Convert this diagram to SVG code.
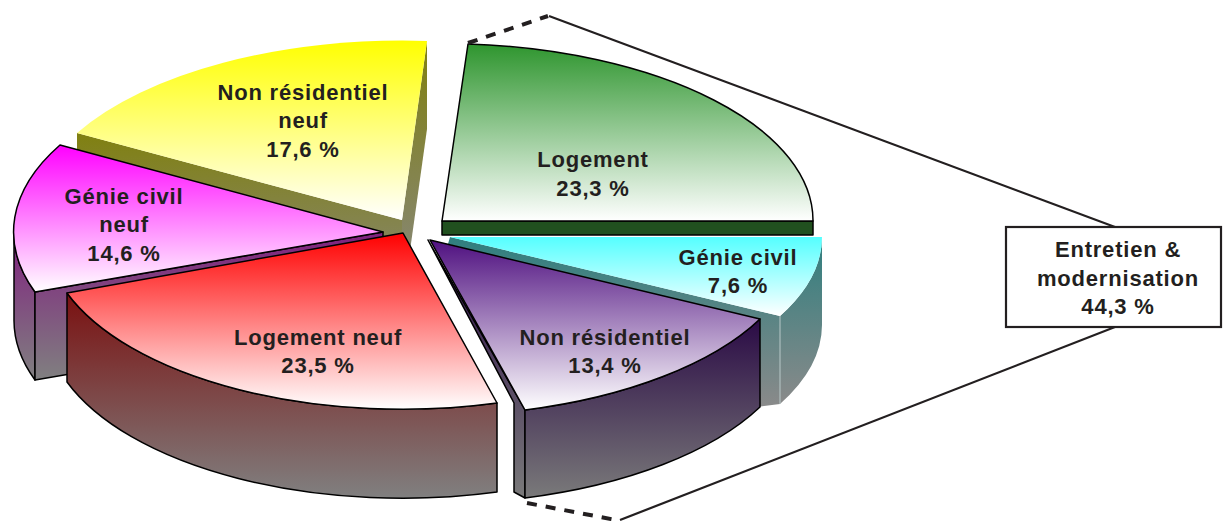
<svg xmlns="http://www.w3.org/2000/svg" width="1224" height="521" viewBox="0 0 1224 521">
<defs>
<linearGradient id="tY" x1="0" y1="0" x2="0" y2="1"><stop offset="0" stop-color="#ffff00"/><stop offset="1" stop-color="#ffffff"/></linearGradient>
<linearGradient id="tG" x1="0" y1="0" x2="0" y2="1"><stop offset="0" stop-color="#2e952e"/><stop offset="1" stop-color="#ffffff"/></linearGradient>
<linearGradient id="tM" x1="0" y1="0" x2="0" y2="1"><stop offset="0" stop-color="#ff00ff"/><stop offset="1" stop-color="#ffffff"/></linearGradient>
<linearGradient id="tC" x1="0" y1="0" x2="0" y2="1"><stop offset="0" stop-color="#55ffff"/><stop offset="1" stop-color="#ffffff"/></linearGradient>
<linearGradient id="tP" x1="0" y1="0" x2="0" y2="1"><stop offset="0" stop-color="#4f1080"/><stop offset="1" stop-color="#ffffff"/></linearGradient>
<linearGradient id="tR" x1="0" y1="0" x2="0" y2="1"><stop offset="0" stop-color="#ff0000"/><stop offset="1" stop-color="#ffffff"/></linearGradient>
<linearGradient id="sY" x1="0" y1="0" x2="0" y2="1"><stop offset="0" stop-color="#808010"/><stop offset="1" stop-color="#888888"/></linearGradient>
<linearGradient id="sM" x1="0" y1="0" x2="0" y2="1"><stop offset="0" stop-color="#80207f"/><stop offset="1" stop-color="#808080"/></linearGradient>
<linearGradient id="sC" x1="0" y1="0" x2="0" y2="1"><stop offset="0" stop-color="#2f7f7f"/><stop offset="1" stop-color="#8a8a8a"/></linearGradient>
<linearGradient id="sP" x1="0" y1="0" x2="0" y2="1"><stop offset="0" stop-color="#2a0a45"/><stop offset="1" stop-color="#7a7a7a"/></linearGradient>
<linearGradient id="sR" x1="0" y1="0" x2="0" y2="1"><stop offset="0" stop-color="#7a1010"/><stop offset="1" stop-color="#808080"/></linearGradient>
</defs>
<style>
.lbl{font-family:"Liberation Sans",Arial,sans-serif;font-weight:bold;font-size:22px;fill:#231f20;text-anchor:middle;letter-spacing:0.8px}
.edge{stroke:#000;stroke-width:1.5;stroke-linejoin:round}
.dash{stroke:#231f20;stroke-width:4;fill:none;stroke-dasharray:10 9}
.line{stroke:#231f20;stroke-width:2.2;fill:none}
</style>
<rect width="1224" height="521" fill="#ffffff"/>

<g id="non-residentiel-neuf">
<path d="M77,133 L402,220 L402,308 L77,221 Z" fill="url(#sY)"/>
<path d="M402,220 L427,41 L427,129 L402,308 Z" fill="url(#sY)"/>
<path d="M402,220 L77,133 A372,179 0 0,1 427,41 Z" fill="url(#tY)"/>
<text class="lbl" x="303" y="100">Non résidentiel</text>
<text class="lbl" x="303" y="128">neuf</text>
<text class="lbl" x="303" y="157">17,6 %</text>
</g>

<g id="logement">
<rect x="442" y="221" width="371" height="14" fill="#21501f" class="edge"/>
<path d="M442,221 L468,44 A371,177 0 0,1 813,221 Z" fill="url(#tG)" class="edge"/>
<text class="lbl" x="593" y="167">Logement</text>
<text class="lbl" x="593" y="196">23,3 %</text>
</g>

<g id="genie-civil-neuf">
<path d="M14,232 A369,179 0 0,0 35,292 L35,380 A369,179 0 0,1 14,320 Z" fill="url(#sM)" class="edge"/>
<path d="M35,292 L383,232 L383,320 L35,380 Z" fill="url(#sM)" class="edge"/>
<path d="M383,232 L35,292 A369,179 0 0,1 60,145 Z" fill="url(#tM)" class="edge"/>
<text class="lbl" x="124" y="204">Génie civil</text>
<text class="lbl" x="124" y="232">neuf</text>
<text class="lbl" x="124" y="261">14,6 %</text>
</g>

<g id="genie-civil">
<path d="M450,237 L780,316 L780,404 L757,407 L757,322 L448,244 Z" fill="url(#sC)"/>
<path d="M822,237 A372,172 0 0,1 780,316 L780,404 A372,172 0 0,0 822,325 Z" fill="url(#sC)"/>
<line x1="780" y1="316" x2="780" y2="404" stroke="#b8c8c8" stroke-width="1"/>
<path d="M450,237 L822,237 A372,172 0 0,1 780,316 Z" fill="url(#tC)"/>
<text class="lbl" x="738" y="265">Génie civil</text>
<text class="lbl" x="738" y="293">7,6 %</text>
</g>

<g id="non-residentiel">
<path d="M428,240 L514,403 L514,492 L525,498 L525,410 Z" fill="url(#sP)" class="edge"/>
<path d="M760,319 A369,176 0 0,1 525,410 L525,498 A369,176 0 0,0 760,407 Z" fill="url(#sP)" class="edge"/>
<path d="M430,240 L760,319 A369,176 0 0,1 525,410 Z" fill="url(#tP)" class="edge"/>
<text class="lbl" x="605" y="345">Non résidentiel</text>
<text class="lbl" x="605" y="373">13,4 %</text>
</g>

<g id="logement-neuf">
<path d="M497,403 A357,176 0 0,1 67,293 L67,382 A357,176 0 0,0 497,492 Z" fill="url(#sR)" class="edge"/>
<path d="M403,233 L497,403 A357,176 0 0,1 67,293 Z" fill="url(#tR)" class="edge"/>
<text class="lbl" x="318" y="345">Logement neuf</text>
<text class="lbl" x="318" y="373">23,5 %</text>
</g>

<g id="entretien-modernisation">
<rect x="1006" y="227" width="215" height="100" fill="#ffffff" stroke="#231f20" stroke-width="2.2"/>
<text class="lbl" x="1118" y="257">Entretien &amp;</text>
<text class="lbl" x="1118" y="286">modernisation</text>
<text class="lbl" x="1118" y="314">44,3 %</text>
</g>

<g id="connectors">
<line class="dash" x1="468" y1="43" x2="548" y2="16"/>
<line class="line" x1="549" y1="16" x2="1115" y2="227"/>
<line class="dash" x1="527" y1="503" x2="616" y2="520"/>
<line class="line" x1="620" y1="520" x2="1115" y2="327"/>
</g>
</svg>
